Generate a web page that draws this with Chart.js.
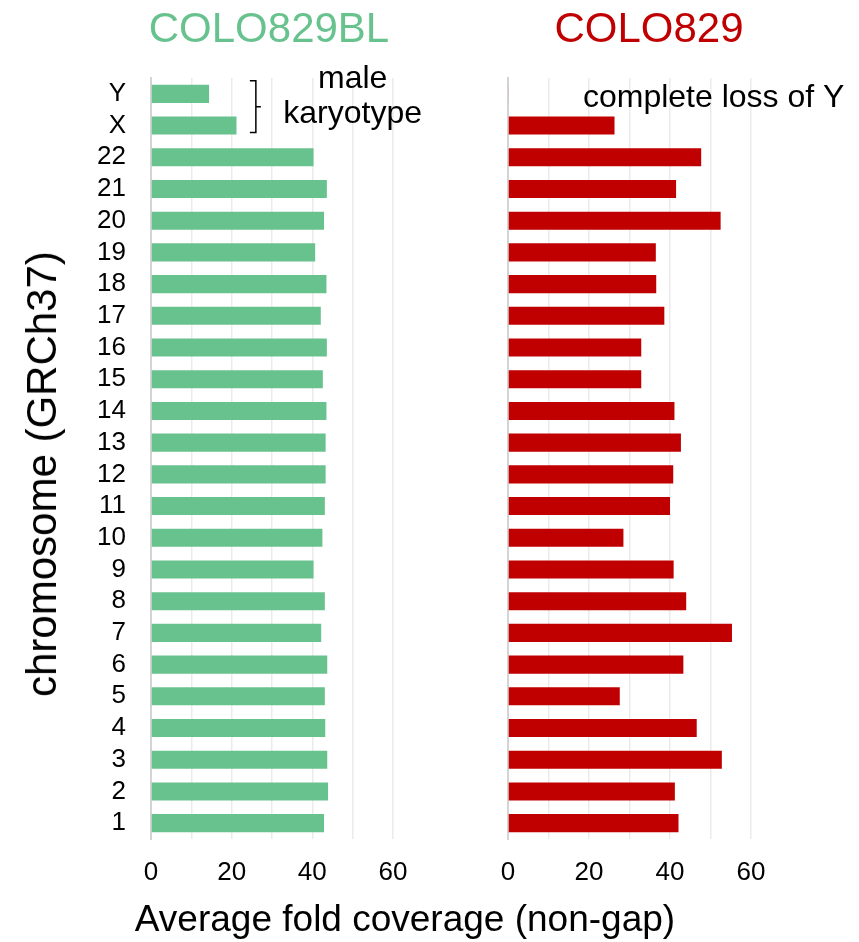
<!DOCTYPE html>
<html>
<head>
<meta charset="utf-8">
<script src="https://cdn.jsdelivr.net/npm/chart.js@4/dist/chart.umd.min.js"></script>
<style>
  html, body { margin: 0; padding: 0; background: #fff; }
  #wrap { position: relative; width: 859px; height: 942px; font-family: "Liberation Sans", Arial, sans-serif; }
  canvas { position: absolute; top: 0; }
  #cvL { left: 0; }
  #cvR { left: 440px; }
  .lbl { position: absolute; white-space: nowrap; line-height: 1; }
  #tL { left: 269px; top: 28px; transform: translate(-50%, -50%); font-size: 42px; color: #68c28e; }
  #tR { left: 649px; top: 28px; transform: translate(-50%, -50%); font-size: 42px; color: #c00000; }
  #xT { left: 405px; top: 918px; transform: translate(-50%, -50%); font-size: 37px; color: #000; }
  #yT { left: 42px; top: 474px; transform: translate(-50%, -50%) rotate(-90deg); font-size: 42px; color: #000; }
</style>
</head>
<body>
<div id="wrap">
  <canvas id="cvL" width="440" height="942"></canvas>
  <canvas id="cvR" width="419" height="942"></canvas>
  <div class="lbl" id="tL">COLO829BL</div>
  <div class="lbl" id="tR">COLO829</div>
  <div class="lbl" id="xT">Average fold coverage (non-gap)</div>
  <div class="lbl" id="yT">chromosome (GRCh37)</div>
</div>
<script>
// Chromosomes from 1 up to the sex chromosomes (drawn bottom to top)
const chromosomes = ['1','2','3','4','5','6','7','8','9','10','11','12','13','14','15','16','17','18','19','20','21','22','X','Y'];

// Average fold coverage, non-gap regions
const coverageNormal = [42.9, 43.9, 43.7, 43.2, 43.1, 43.7, 42.2, 43.1, 40.3, 42.5, 43.1, 43.3, 43.3, 43.5, 42.6, 43.6, 42.1, 43.5, 40.7, 42.9, 43.6, 40.3, 21.2, 14.4];
const coverageTumor  = [42.1, 41.2, 52.8, 46.6, 27.6, 43.3, 55.3, 44.0, 40.9, 28.5, 40.0, 40.8, 42.7, 41.1, 32.9, 32.9, 38.6, 36.6, 36.5, 52.5, 41.5, 47.7, 26.3, 0.2];

const xTicks = [0, 20, 40, 60];
const xMax = 60;

const GREEN = '#68c28e';
const RED = '#c00000';
const FONT = "'Liberation Sans', Arial, sans-serif";

Chart.defaults.font.family = FONT;
Chart.defaults.color = '#000';

function options(showLabels, yWidth, padRight) {
  return {
    indexAxis: 'y',
    responsive: false,
    animation: false,
    devicePixelRatio: 1,
    layout: { padding: { top: 78, right: padRight, bottom: 43, left: 0 } },
    plugins: { legend: { display: false }, tooltip: { enabled: false } },
    scales: {
      x: {
        min: 0, max: xMax,
        ticks: {
          stepSize: 10,
          padding: 18,
          font: { size: 26 },
          color: '#000',
          callback: v => xTicks.includes(v) ? String(v) : ''
        },
        grid: { color: '#ebebeb', lineWidth: 1.5, drawTicks: false },
        border: { display: false },
        afterFit: s => { s.height = 60; }
      },
      y: {
        reverse: true,
        ticks: { display: showLabels, padding: 25, font: { size: 26 }, color: '#000', autoSkip: false },
        grid: { display: false, drawTicks: false },
        border: { display: true, color: '#d4d4d4', width: 2 },
        afterFit: s => { s.width = yWidth; }
      }
    }
  };
}

// Bracket and note grouping the two sex chromosomes in the normal sample
const karyotypeNote = {
  id: 'karyotypeNote',
  afterDatasetsDraw(chart) {
    const { ctx, scales: { x, y } } = chart;
    const yY = y.getPixelForValue(chromosomes.indexOf('Y'));
    const yX = y.getPixelForValue(chromosomes.indexOf('X'));
    const gap = Math.abs(yX - yY);
    const top = yY - gap * 0.41, bottom = yX + gap * 0.22, mid = (top + bottom) / 2;
    const xb = x.getPixelForValue(26);
    ctx.save();
    ctx.strokeStyle = '#000';
    ctx.lineWidth = 1.5;
    ctx.beginPath();
    ctx.moveTo(xb - 6, top); ctx.lineTo(xb, top); ctx.lineTo(xb, bottom); ctx.lineTo(xb - 6, bottom);
    ctx.moveTo(xb, mid); ctx.lineTo(xb + 5, mid);
    ctx.stroke();
    ctx.fillStyle = '#000';
    ctx.font = '32px ' + FONT;
    ctx.textAlign = 'center';
    ctx.textBaseline = 'middle';
    const cx = x.getPixelForValue(50);
    ctx.fillText('male', cx, (yY + yX) / 2 - 31);
    ctx.fillText('karyotype', cx, (yY + yX) / 2 + 4);
    ctx.restore();
  }
};

// Note on the missing Y chromosome in the tumour sample
const lossNote = {
  id: 'lossNote',
  afterDatasetsDraw(chart) {
    const { ctx, scales: { x, y } } = chart;
    const yY = y.getPixelForValue(chromosomes.indexOf('Y'));
    ctx.save();
    ctx.fillStyle = '#000';
    ctx.font = '32px ' + FONT;
    ctx.textAlign = 'left';
    ctx.textBaseline = 'middle';
    ctx.fillText('complete loss of Y', x.getPixelForValue(18.5), yY + 4);
    ctx.restore();
  }
};

new Chart(document.getElementById('cvL'), {
  type: 'bar',
  data: {
    labels: chromosomes,
    datasets: [{ data: coverageNormal, backgroundColor: GREEN, categoryPercentage: 0.57, barPercentage: 1 }]
  },
  options: options(true, 151, 47),
  plugins: [karyotypeNote]
});

new Chart(document.getElementById('cvR'), {
  type: 'bar',
  data: {
    labels: chromosomes,
    datasets: [{ data: coverageTumor, backgroundColor: RED, categoryPercentage: 0.57, barPercentage: 1 }]
  },
  options: options(false, 68, 108),
  plugins: [lossNote]
});
</script>
</body>
</html>
